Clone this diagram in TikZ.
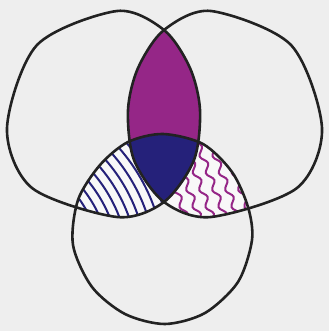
\documentclass[tikz,border=0pt]{standalone}
\usepackage{tikz}
\usetikzlibrary{decorations.pathmorphing}
\usepackage{xcolor}

\definecolor{bgGray}{HTML}{EEEEEE}
\definecolor{lensPurple}{HTML}{952687}
\definecolor{coreNavy}{HTML}{25217A}
\definecolor{inkGray}{HTML}{222222}

\newcommand{\leftblob}{plot[smooth cycle] coordinates {(164,30) (117,11) (37,45) (7,128) (32,188) (117,217) (164,202) (194,160) (200,110) (190,68)}}
\newcommand{\rightblob}{plot[smooth cycle] coordinates {(164,30) (211,11) (291,45) (322,128) (297,188) (211,217) (164,202) (134,160) (128,110) (138,68)}}
\newcommand{\lowblob}{plot[smooth cycle] coordinates {(163,134) (203,144) (232,172) (248,207) (252,240) (238,282) (205,313) (165,324) (125,314) (92,287) (73,245) (78,200) (100,165) (128,142)}}

\begin{document}
\begin{tikzpicture}[
  x=1pt, y=-1pt,
  blob/.style={draw=inkGray, line width=2.6pt},
  navyhatch/.style={draw=coreNavy, line width=2pt},
  wavy/.style={draw=lensPurple, line width=2pt, decorate,
    decoration={snake, amplitude=2.8pt, segment length=18pt}}
]
\fill[bgGray] (0,0) rectangle (329,331);
\useasboundingbox (0,0) rectangle (329,331);

\begin{scope}
  \clip \leftblob;
  \clip \lowblob;
  \fill[white!60!bgGray] (0,0) rectangle (329,331);
  \foreach \r in {113,122,...,195}
    \draw[navyhatch] (-20,270) circle[radius=\r pt];
\end{scope}

\begin{scope}
  \clip \rightblob;
  \clip \lowblob;
  \fill[white!60!bgGray] (0,0) rectangle (329,331);
  \foreach \s in {152,165,...,226}
    \draw[wavy] (\s,125) -- ++(36,97);
\end{scope}

\begin{scope}
  \clip \leftblob;
  \fill[lensPurple] \rightblob;
  \clip \rightblob;
  \fill[coreNavy] \lowblob;
\end{scope}

\draw[blob] \leftblob;
\draw[blob] \rightblob;
\draw[blob] \lowblob;
\end{tikzpicture}
\end{document}
